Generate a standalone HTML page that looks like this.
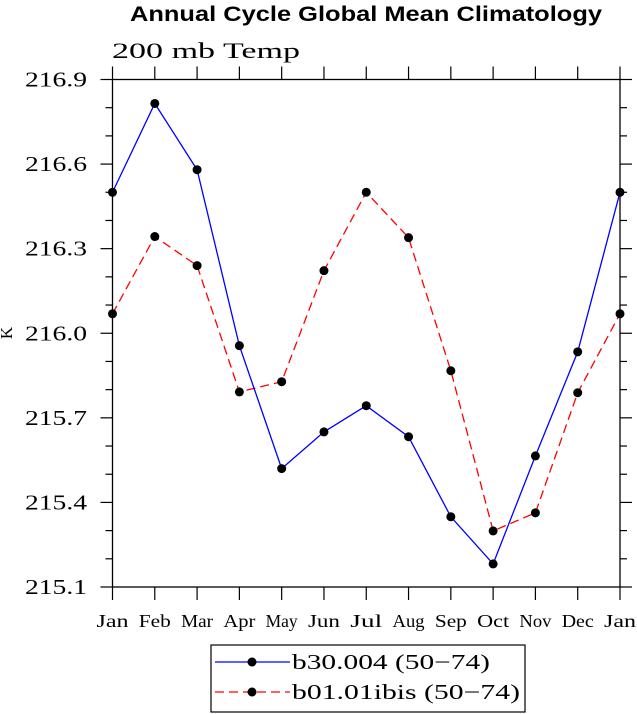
<!DOCTYPE html>
<html><head><meta charset="utf-8"><style>
body{margin:0;background:#fff;}
svg{display:block;}
</style></head><body>
<svg id="chart" width="637" height="714" xmlns="http://www.w3.org/2000/svg">
<text x="366" y="21" text-anchor="middle" font-family="Liberation Sans, sans-serif" font-weight="bold" font-size="21" textLength="472" lengthAdjust="spacingAndGlyphs">Annual Cycle Global Mean Climatology</text>
<text x="112" y="58" font-family="Liberation Serif, serif" font-size="22" textLength="188" lengthAdjust="spacingAndGlyphs">200 mb Temp</text>
<text x="12" y="333" text-anchor="middle" transform="rotate(-90 12 333)" font-family="Liberation Serif, serif" font-size="17">K</text>
<g id="axes"></g>
<g id="series"></g>
<g>
<rect x="211" y="645" width="314" height="67" fill="#fff" stroke="#000" stroke-width="1.2"/>
<line x1="215" y1="662" x2="290" y2="662" stroke="#00f" stroke-width="1.3"/>
<circle cx="252" cy="662" r="4.5"/>
<text x="292" y="669" font-family="Liberation Serif, serif" font-size="21" textLength="198" lengthAdjust="spacingAndGlyphs">b30.004 (50−74)</text>
<line x1="215" y1="692" x2="290" y2="692" stroke="#f00" stroke-width="1.3" stroke-dasharray="9,5"/>
<circle cx="252" cy="692" r="4.5"/>
<text x="292" y="699" font-family="Liberation Serif, serif" font-size="21" textLength="228" lengthAdjust="spacingAndGlyphs">b01.01ibis (50−74)</text>
</g>
</svg>
<script>
const months = ["Jan","Feb","Mar","Apr","May","Jun","Jul","Aug","Sep","Oct","Nov","Dec","Jan"];
const yTicks = [215.1,215.4,215.7,216.0,216.3,216.6,216.9];
const yTickLabels = ["215.1","215.4","215.7","216.0","216.3","216.6","216.9"];
const blueValues = [216.50,216.815,216.58,215.956,215.52,215.65,215.743,215.633,215.349,215.182,215.565,215.934,216.50];
const redValues = [216.069,216.343,216.24,215.792,215.828,216.222,216.50,216.339,215.867,215.299,215.363,215.789,216.069];

const L=112.5,R=620,T=79.5,B=587,yMin=215.1,yMax=216.9;
const xS=i=>L+(R-L)*i/(months.length-1);
const yS=v=>B-(B-T)*(v-yMin)/(yMax-yMin);
const NS="http://www.w3.org/2000/svg";
function mk(tag,attrs,parent){const e=document.createElementNS(NS,tag);for(const k in attrs)e.setAttribute(k,attrs[k]);parent.appendChild(e);return e;}
const ax=document.getElementById('axes');
const frame=mk('rect',{x:L,y:T,width:R-L,height:B-T,fill:'none',stroke:'#000','stroke-width':1.3},ax);


months.forEach((m,i)=>{
  const x=xS(i);
  mk('line',{x1:x,y1:B,x2:x,y2:B+13,stroke:'#000','stroke-width':1.2},ax);
  mk('line',{x1:x,y1:T,x2:x,y2:T-13,stroke:'#000','stroke-width':1.2},ax);
  const t=mk('text',{x:x,y:627,'text-anchor':'middle','font-family':'Liberation Serif, serif','font-size':18,textLength:32,lengthAdjust:'spacingAndGlyphs'},ax);
  t.textContent=m;
  
  
});
for(let k=0;k<=18;k++){
  const v=yMin+k*0.1,y=yS(v),major=k%3===0,len=major?12:7;
  mk('line',{x1:L-len,y1:y,x2:L,y2:y,stroke:'#000','stroke-width':1.2},ax);
  mk('line',{x1:R,y1:y,x2:R+len,y2:y,stroke:'#000','stroke-width':1.2},ax);
}
yTicks.forEach((v,i)=>{
  const t=mk('text',{x:87,y:yS(v)+7,'text-anchor':'end','font-family':'Liberation Serif, serif','font-size':21,textLength:62,lengthAdjust:'spacingAndGlyphs'},ax);
  t.textContent=yTickLabels[i];
  
  
});
const sg=document.getElementById('series');
function drawSeries(vals,color,dash,name){
  const p=mk('polyline',{points:vals.map((v,i)=>xS(i)+','+yS(v)).join(' '),fill:'none',stroke:color,'stroke-width':1.3,'stroke-dasharray':dash},sg);
  
  
  vals.forEach((v,i)=>{
    const c=mk('circle',{cx:xS(i),cy:yS(v),r:4.5,fill:'#000'},sg);
    
    
  });
}
drawSeries(redValues,'#f00','9,5','b01-series');
drawSeries(blueValues,'#00f','none','b30-series');
</script>
</body></html>
